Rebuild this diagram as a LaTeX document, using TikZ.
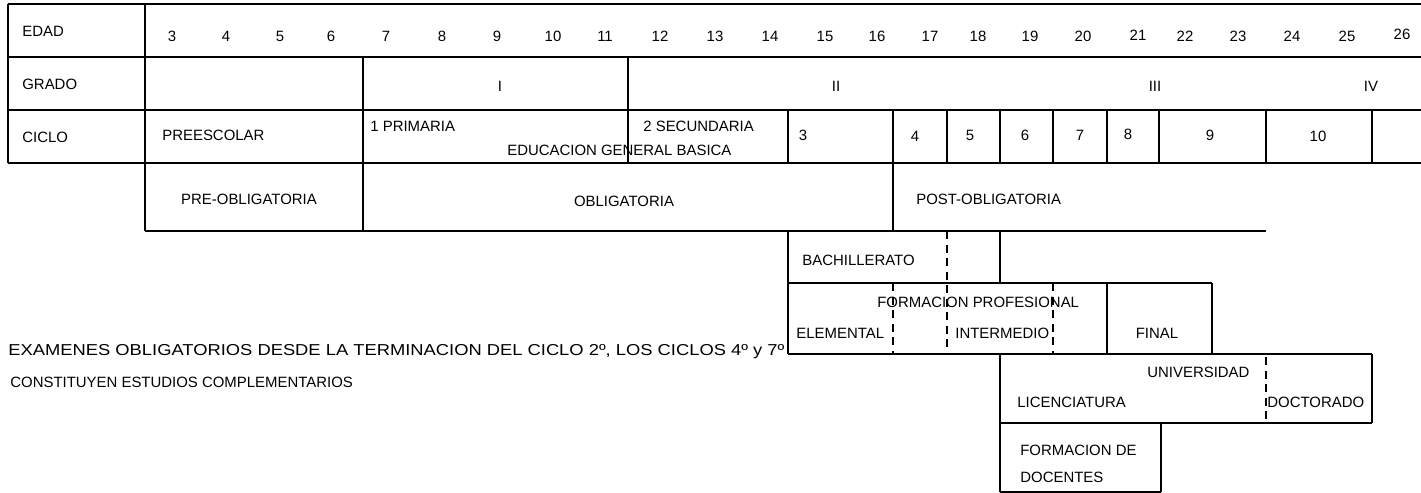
\documentclass[tikz,border=0pt]{standalone}
\usepackage{fontspec}
\setmainfont{Liberation Sans}
\tikzset{
  rule/.style={line width=.8pt},
  dashrule/.style={line width=.8pt, dash pattern=on 1.6mm off 1.1mm},
  lbl/.style={anchor=west, inner sep=0pt, font=\fontsize{8.5}{10}\selectfont},
  num/.style={inner sep=0pt, font=\fontsize{8.5}{10}\selectfont}
}
\begin{document}
\begin{tikzpicture}[x=0.2mm, y=-0.2mm]
  \useasboundingbox (0,0) rectangle (1421,493);

  % table rules
  \begin{scope}[rule]
    \draw (8,4) -- (1421,4);
    \draw (8,57) -- (1421,57);
    \draw (8,110) -- (1421,110);
    \draw (8,163) -- (1421,163);
    \draw (145,231) -- (1266,231);
    \draw (788,283) -- (1212,283);
    \draw (788,354) -- (1372,354);
    \draw (1000,423) -- (1372,423);
    \draw (1000,492) -- (1161,492);

    \draw (8,4) -- (8,163);
    \draw (145,4) -- (145,231);
    \draw (363,57) -- (363,231);
    \draw (628,57) -- (628,163);
    \draw (788,110) -- (788,163);
    \draw (788,231) -- (788,354);
    \draw (893,110) -- (893,231);
    \draw (947,110) -- (947,163);
    \draw (1000,110) -- (1000,163);
    \draw (1000,231) -- (1000,283);
    \draw (1000,354) -- (1000,492);
    \draw (1053,110) -- (1053,163);
    \draw (1107,110) -- (1107,163);
    \draw (1107,283) -- (1107,354);
    \draw (1159,110) -- (1159,163);
    \draw (1212,283) -- (1212,354);
    \draw (1266,110) -- (1266,163);
    \draw (1372,110) -- (1372,163);
    \draw (1372,354) -- (1372,423);
    \draw (1161,423) -- (1161,492);
  \end{scope}

  \begin{scope}[dashrule]
    \draw (893,283) -- (893,354);
    \draw (947,231) -- (947,354);
    \draw (1053,283) -- (1053,354);
    \draw (1266,357) -- (1266,423);
  \end{scope}

  % row heads
  \node[lbl] (edad)  at (22,31)  {EDAD};
  \node[lbl] (grado) at (22,84)  {GRADO};
  \node[lbl] (ciclo) at (22,137) {CICLO};

  % ages
  \begin{scope}[every node/.style={num}]
    \node (a3)  at (172,36)  {3};
    \node (a4)  at (226,36)  {4};
    \node (a5)  at (280,36)  {5};
    \node (a6)  at (331,36)  {6};
    \node (a7)  at (386,36)  {7};
    \node (a8)  at (442,36)  {8};
    \node (a9)  at (497,36)  {9};
    \node (a10) at (553,36)  {10};
    \node (a11) at (605,36)  {11};
    \node (a12) at (660,36)  {12};
    \node (a13) at (715,36)  {13};
    \node (a14) at (770,36)  {14};
    \node (a15) at (825,36)  {15};
    \node (a16) at (877,36)  {16};
    \node (a17) at (930,36)  {17};
    \node (a18) at (978,36)  {18};
    \node (a19) at (1030,36) {19};
    \node (a20) at (1083,36) {20};
    \node (a21) at (1138,35) {21};
    \node (a22) at (1185,36) {22};
    \node (a23) at (1238,36) {23};
    \node (a24) at (1292,36) {24};
    \node (a25) at (1347,36) {25};
    \node (a26) at (1402,34) {26};

    \node (g1) at (500,86)  {I};
    \node (g2) at (836,86)  {II};
    \node (g3) at (1155,86) {III};
    \node (g4) at (1371,86) {IV};

    \node (c3)  at (803,135)  {3};
    \node (c4)  at (915,136)  {4};
    \node (c5)  at (970,135)  {5};
    \node (c6)  at (1025,135) {6};
    \node (c7)  at (1080,135) {7};
    \node (c8)  at (1128,134) {8};
    \node (c9)  at (1210,135) {9};
    \node (c10) at (1318,136) {10};

    \node (preobl) at (249,199) {PRE-OBLIGATORIA};
    \node (obl)    at (624,201) {OBLIGATORIA};
    \node (final)  at (1157,333) {FINAL};
  \end{scope}

  % cycles and branches
  \node[lbl] (preescolar) at (162,135) {PREESCOLAR};
  \node[lbl] (primaria)   at (370,126) {1 PRIMARIA};
  \node[lbl] (secundaria) at (643,126) {2 SECUNDARIA};
  \node[lbl] (egb)        at (507,150) {EDUCACION GENERAL BASICA};
  \node[lbl] (postobl)    at (916,199) {POST-OBLIGATORIA};
  \node[lbl] (bach)       at (802,260) {BACHILLERATO};
  \node[lbl] (fp)         at (877,302) {FORMACION PROFESIONAL};
  \node[lbl] (elem)       at (796,333) {ELEMENTAL};
  \node[lbl] (inter)      at (955,333) {INTERMEDIO};
  \node[lbl] (univ)       at (1147,372) {UNIVERSIDAD};
  \node[lbl] (lic)        at (1017,402) {LICENCIATURA};
  \node[lbl] (doct)       at (1267,402) {DOCTORADO};
  \node[lbl] (fdoc)       at (1020,450) {FORMACION DE};
  \node[lbl] (docentes)   at (1020,477) {DOCENTES};

  % note
  \node[lbl, font=\fontsize{9}{11}\selectfont, xscale=1.16] (nota1) at (8,352)
    {EXAMENES OBLIGATORIOS DESDE LA TERMINACION DEL CICLO 2º, LOS CICLOS 4º y 7º};
  \node[lbl] (nota2) at (10,382) {CONSTITUYEN ESTUDIOS COMPLEMENTARIOS};

\end{tikzpicture}
\end{document}
